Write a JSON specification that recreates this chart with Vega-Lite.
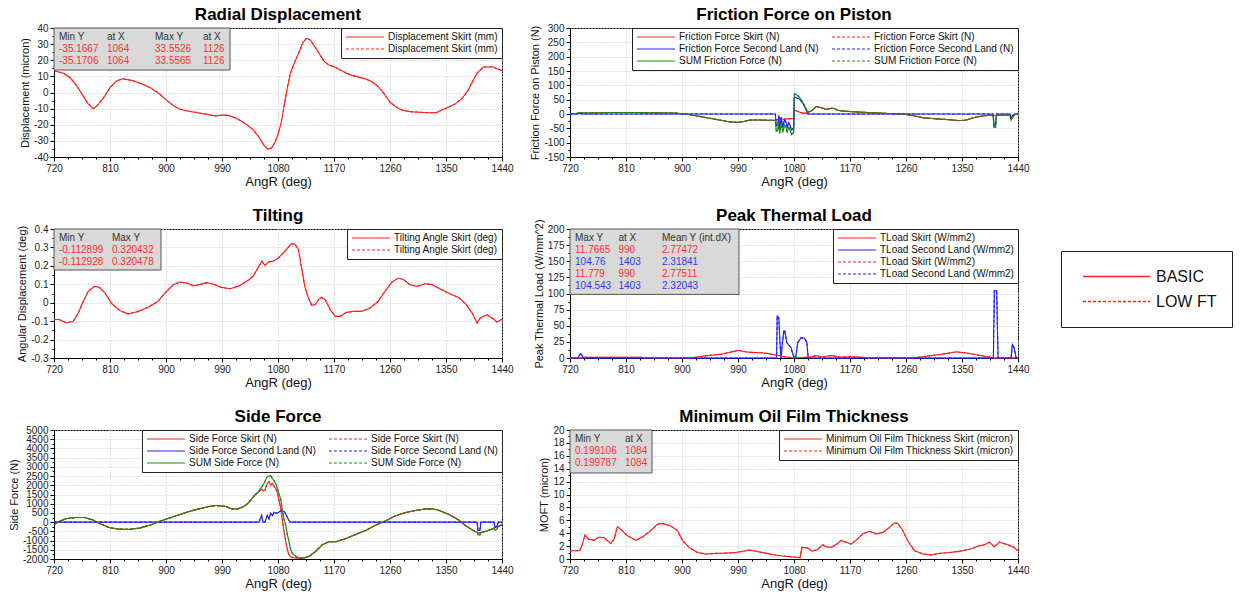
{
"$schema":"https://vega.github.io/schema/vega-lite/v6.json",
"background":"white",
"padding":{"left":7,"top":5,"right":2,"bottom":0},
"config":{
"font":"Liberation Sans",
"view":{"stroke":"#000","strokeWidth":1},
"title":{"font":"Liberation Sans","fontSize":17,"fontWeight":"bold","color":"#000","anchor":"middle"},
"axis":{"labelFont":"Liberation Sans","labelFontSize":10,"labelColor":"#222","titleFont":"Liberation Sans","titleFontWeight":"normal","titleColor":"#111","domainColor":"#000","tickColor":"#000","tickSize":4,"labelPadding":2,"gridColor":"#c4c4c4","gridDash":[1,2],"labelOverlap":false,"labelFlush":false,"minExtent":0},
"axisX":{"titleFontSize":13,"titlePadding":2},
"axisY":{"titleFontSize":11,"titlePadding":3},
"legend":{"labelFont":"Liberation Sans","labelFontSize":10,"labelColor":"#111","strokeColor":"#222","fillColor":"#ffffff","padding":4,"symbolType":"stroke","symbolSize":1444,"symbolStrokeWidth":1.2,"clipHeight":10,"rowPadding":2,"labelOffset":3,"columnPadding":12,"offset":0,"orient":"top-right","labelLimit":400}
},
"datasets":{
"p1":[{"x":720,"a":13.5},{"x":735,"a":12},{"x":745,"a":9.5},{"x":755,"a":5},{"x":765,"a":-1},{"x":775,"a":-7},{"x":783,"a":-10},{"x":790,"a":-8},{"x":800,"a":-3},{"x":810,"a":3},{"x":820,"a":7},{"x":830,"a":8.5},{"x":845,"a":7.5},{"x":860,"a":5.5},{"x":875,"a":3},{"x":890,"a":-1},{"x":900,"a":-4.5},{"x":910,"a":-7.5},{"x":920,"a":-10},{"x":935,"a":-11.5},{"x":950,"a":-12.5},{"x":965,"a":-13.5},{"x":980,"a":-14.5},{"x":990,"a":-14},{"x":1000,"a":-14.2},{"x":1010,"a":-15.5},{"x":1020,"a":-17.5},{"x":1030,"a":-20},{"x":1040,"a":-23},{"x":1050,"a":-28},{"x":1058,"a":-33},{"x":1064,"a":-35.2},{"x":1070,"a":-34.3},{"x":1075,"a":-31},{"x":1080,"a":-26},{"x":1085,"a":-19},{"x":1090,"a":-8},{"x":1095,"a":3},{"x":1100,"a":12},{"x":1108,"a":20},{"x":1115,"a":26},{"x":1120,"a":31},{"x":1126,"a":33.6},{"x":1132,"a":32.5},{"x":1140,"a":28},{"x":1148,"a":23},{"x":1155,"a":19},{"x":1162,"a":17},{"x":1170,"a":16},{"x":1180,"a":14},{"x":1190,"a":12},{"x":1200,"a":10.5},{"x":1210,"a":9.5},{"x":1220,"a":8.5},{"x":1230,"a":7},{"x":1240,"a":4},{"x":1250,"a":-0.5},{"x":1260,"a":-6},{"x":1270,"a":-9},{"x":1280,"a":-11},{"x":1295,"a":-12},{"x":1310,"a":-12.3},{"x":1325,"a":-12.6},{"x":1335,"a":-12.4},{"x":1345,"a":-10.5},{"x":1355,"a":-9},{"x":1365,"a":-7},{"x":1375,"a":-4},{"x":1385,"a":1},{"x":1393,"a":7},{"x":1400,"a":12},{"x":1410,"a":15.8},{"x":1420,"a":15.8},{"x":1425,"a":16},{"x":1430,"a":15},{"x":1440,"a":13.5}],
"p2":[{"x":720,"a":2,"b":0,"c":2},{"x":730,"a":2,"b":0,"c":2},{"x":735,"a":3,"b":2,"c":5},{"x":740,"a":3,"b":0,"c":3},{"x":760,"a":4,"b":0,"c":4},{"x":780,"a":5,"b":0,"c":5},{"x":800,"a":5,"b":0,"c":5},{"x":830,"a":5,"b":0,"c":5},{"x":860,"a":4,"b":0,"c":4},{"x":890,"a":3,"b":0,"c":3},{"x":905,"a":0,"b":0,"c":0},{"x":920,"a":-5,"b":0,"c":-5},{"x":940,"a":-13,"b":0,"c":-13},{"x":960,"a":-21,"b":0,"c":-21},{"x":975,"a":-27,"b":0,"c":-27},{"x":990,"a":-29,"b":0,"c":-29},{"x":1000,"a":-26,"b":0,"c":-26},{"x":1010,"a":-21,"b":0,"c":-21},{"x":1025,"a":-21,"b":0,"c":-21},{"x":1040,"a":-22,"b":0,"c":-22},{"x":1050,"a":-22,"b":0,"c":-22},{"x":1051.5,"a":-20,"b":-40,"c":-60},{"x":1054,"a":-19,"b":-38,"c":-57},{"x":1055.6,"a":-19,"b":-5,"c":-24},{"x":1057,"a":-18,"b":-50,"c":-68},{"x":1059.3,"a":-18,"b":-12,"c":-30},{"x":1062,"a":-18,"b":-46,"c":-64},{"x":1064.7,"a":-18,"b":-20,"c":-38},{"x":1067.4,"a":-17,"b":-30,"c":-47},{"x":1069,"a":-17,"b":-45,"c":-62},{"x":1071.7,"a":-17,"b":-30,"c":-47},{"x":1074,"a":-16,"b":-42,"c":-58},{"x":1076,"a":-16,"b":-56,"c":-72},{"x":1079.5,"a":-16,"b":-48,"c":-64},{"x":1080.5,"a":13,"b":57,"c":70},{"x":1082,"a":12,"b":58,"c":70},{"x":1086,"a":9,"b":55,"c":64},{"x":1089,"a":6,"b":52,"c":58},{"x":1094,"a":3,"b":38,"c":41},{"x":1099.6,"a":3,"b":15,"c":18},{"x":1102.3,"a":6,"b":0,"c":6},{"x":1107.7,"a":10,"b":0,"c":10},{"x":1115.7,"a":26,"b":0,"c":26},{"x":1123.8,"a":22,"b":0,"c":22},{"x":1131.8,"a":16,"b":0,"c":16},{"x":1139.9,"a":20,"b":0,"c":20},{"x":1145,"a":19,"b":0,"c":19},{"x":1150,"a":13,"b":0,"c":13},{"x":1160,"a":10,"b":0,"c":10},{"x":1175,"a":8,"b":0,"c":8},{"x":1190,"a":6,"b":0,"c":6},{"x":1210,"a":4,"b":0,"c":4},{"x":1230,"a":2,"b":0,"c":2},{"x":1255,"a":0,"b":0,"c":0},{"x":1270,"a":-5,"b":0,"c":-5},{"x":1290,"a":-14,"b":0,"c":-14},{"x":1310,"a":-17,"b":0,"c":-17},{"x":1330,"a":-20,"b":0,"c":-20},{"x":1345,"a":-23,"b":0,"c":-23},{"x":1355,"a":-22,"b":0,"c":-22},{"x":1370,"a":-12,"b":0,"c":-12},{"x":1385,"a":-6,"b":0,"c":-6},{"x":1400,"a":-4,"b":0,"c":-4},{"x":1401.5,"a":-6,"b":-40,"c":-46},{"x":1404,"a":-6,"b":-40,"c":-46},{"x":1405.5,"a":-5,"b":0,"c":-5},{"x":1420,"a":-3,"b":0,"c":-3},{"x":1427,"a":-3,"b":0,"c":-3},{"x":1429,"a":-10,"b":-12,"c":-22},{"x":1432,"a":-5,"b":-5,"c":-10},{"x":1435,"a":-2,"b":0,"c":-2},{"x":1440,"a":0,"b":0,"c":0}],
"p3":[{"x":720,"a":-0.09},{"x":729,"a":-0.092},{"x":740,"a":-0.11},{"x":751,"a":-0.1},{"x":759,"a":-0.056},{"x":767,"a":0.007},{"x":775,"a":0.062},{"x":785,"a":0.089},{"x":793,"a":0.083},{"x":802,"a":0.053},{"x":812,"a":-0.002},{"x":826,"a":-0.043},{"x":839,"a":-0.061},{"x":855,"a":-0.047},{"x":871,"a":-0.025},{"x":887,"a":0.007},{"x":901,"a":0.062},{"x":912,"a":0.098},{"x":922,"a":0.112},{"x":933,"a":0.107},{"x":944,"a":0.092},{"x":954,"a":0.098},{"x":965,"a":0.109},{"x":976,"a":0.101},{"x":989,"a":0.083},{"x":1003,"a":0.076},{"x":1016,"a":0.089},{"x":1030,"a":0.116},{"x":1040,"a":0.143},{"x":1046,"a":0.179},{"x":1054,"a":0.225},{"x":1059,"a":0.203},{"x":1065,"a":0.221},{"x":1072,"a":0.225},{"x":1081,"a":0.243},{"x":1091,"a":0.279},{"x":1101,"a":0.319},{"x":1107,"a":0.319},{"x":1113,"a":0.288},{"x":1118,"a":0.189},{"x":1123,"a":0.089},{"x":1129,"a":0.025},{"x":1134,"a":-0.014},{"x":1140,"a":-0.01},{"x":1145,"a":0.016},{"x":1150,"a":0.029},{"x":1156,"a":0.016},{"x":1164,"a":-0.038},{"x":1172,"a":-0.074},{"x":1180,"a":-0.074},{"x":1190,"a":-0.052},{"x":1201,"a":-0.047},{"x":1215,"a":-0.047},{"x":1228,"a":-0.029},{"x":1241,"a":0.007},{"x":1252,"a":0.062},{"x":1263,"a":0.112},{"x":1274,"a":0.134},{"x":1282,"a":0.125},{"x":1292,"a":0.098},{"x":1303,"a":0.089},{"x":1317,"a":0.103},{"x":1327,"a":0.098},{"x":1343,"a":0.071},{"x":1357,"a":0.047},{"x":1370,"a":0.029},{"x":1381,"a":-0.004},{"x":1392,"a":-0.056},{"x":1400,"a":-0.11},{"x":1405,"a":-0.083},{"x":1416,"a":-0.065},{"x":1424,"a":-0.083},{"x":1432,"a":-0.105},{"x":1440,"a":-0.09}],
"p4":[{"x":720,"a":0,"b":0},{"x":733,"a":0,"b":0},{"x":735,"a":0,"b":4},{"x":737,"a":0,"b":7},{"x":739,"a":0,"b":5},{"x":741,"a":0,"b":0},{"x":742,"a":1,"b":0},{"x":800,"a":1,"b":0},{"x":835,"a":1,"b":0},{"x":838,"a":0,"b":0},{"x":915,"a":0,"b":0},{"x":920,"a":1,"b":0},{"x":943,"a":4,"b":0},{"x":964,"a":6,"b":0},{"x":980,"a":9.5,"b":0},{"x":991,"a":11.8,"b":0},{"x":1000,"a":10,"b":0},{"x":1007,"a":9,"b":0},{"x":1029,"a":8,"b":0},{"x":1050,"a":5,"b":0},{"x":1052,"a":4.5,"b":0},{"x":1053,"a":4.3,"b":65},{"x":1055.6,"a":3.8,"b":62},{"x":1057.7,"a":3.3,"b":18},{"x":1059.3,"a":3,"b":0},{"x":1061,"a":2.5,"b":20},{"x":1063.6,"a":2,"b":42},{"x":1065.2,"a":1.8,"b":42},{"x":1068.4,"a":1.4,"b":24},{"x":1072.7,"a":0.9,"b":18.6},{"x":1075.4,"a":0.6,"b":16},{"x":1077,"a":0.5,"b":10},{"x":1079.2,"a":0.6,"b":3},{"x":1080.8,"a":0.6,"b":0},{"x":1083,"a":0.6,"b":3},{"x":1086.2,"a":0.7,"b":24},{"x":1091.5,"a":0.8,"b":31.5},{"x":1096.9,"a":0.9,"b":30.5},{"x":1100.7,"a":1,"b":24},{"x":1102.8,"a":1,"b":0},{"x":1105,"a":1,"b":0},{"x":1115,"a":3.6,"b":0},{"x":1126,"a":1.5,"b":0},{"x":1139,"a":4,"b":0},{"x":1153,"a":1.5,"b":0},{"x":1169,"a":2,"b":0},{"x":1190,"a":1,"b":0},{"x":1195,"a":0,"b":0},{"x":1271,"a":0,"b":0},{"x":1292,"a":2.6,"b":0},{"x":1319,"a":6,"b":0},{"x":1341,"a":9.5,"b":0},{"x":1357,"a":7.8,"b":0},{"x":1373,"a":5,"b":0},{"x":1389,"a":2,"b":0},{"x":1395,"a":1.5,"b":0},{"x":1400.4,"a":0.3,"b":0},{"x":1402,"a":0,"b":104},{"x":1405.8,"a":0,"b":104},{"x":1406.8,"a":0,"b":52},{"x":1408,"a":0,"b":0},{"x":1428.9,"a":0,"b":0},{"x":1431,"a":0,"b":21},{"x":1433.7,"a":0,"b":16},{"x":1437,"a":0,"b":0},{"x":1440,"a":0,"b":0}],
"p5":[{"x":720,"a":-144,"b":0,"c":-144},{"x":728,"a":36,"b":0,"c":36},{"x":739,"a":183,"b":0,"c":183},{"x":755,"a":256,"b":0,"c":256},{"x":768,"a":256,"b":0,"c":256},{"x":782,"a":130,"b":0,"c":130},{"x":792,"a":-53,"b":0,"c":-53},{"x":808,"a":-290,"b":0,"c":-290},{"x":824,"a":-378,"b":0,"c":-378},{"x":840,"a":-396,"b":0,"c":-396},{"x":857,"a":-325,"b":0,"c":-325},{"x":873,"a":-180,"b":0,"c":-180},{"x":889,"a":36,"b":0,"c":36},{"x":905,"a":216,"b":0,"c":216},{"x":921,"a":397,"b":0,"c":397},{"x":937,"a":577,"b":0,"c":577},{"x":953,"a":721,"b":0,"c":721},{"x":969,"a":847,"b":0,"c":847},{"x":980,"a":905,"b":0,"c":905},{"x":996,"a":847,"b":0,"c":847},{"x":1006,"a":721,"b":0,"c":721},{"x":1014,"a":703,"b":0,"c":703},{"x":1025,"a":847,"b":0,"c":847},{"x":1033,"a":1060,"b":0,"c":1060},{"x":1041,"a":1400,"b":0,"c":1400},{"x":1049.4,"a":1659,"b":0,"c":1700},{"x":1053.7,"a":1800,"b":361,"c":1900},{"x":1055.9,"a":1700,"b":0,"c":2000},{"x":1059,"a":1750,"b":0,"c":2200},{"x":1062.8,"a":2100,"b":361,"c":2470},{"x":1065.5,"a":2200,"b":180,"c":2500},{"x":1068.2,"a":2019,"b":487,"c":2524},{"x":1070.9,"a":2110,"b":361,"c":2380},{"x":1073.5,"a":1950,"b":541,"c":2250},{"x":1076.2,"a":1839,"b":500,"c":2110},{"x":1079,"a":1550,"b":487,"c":1850},{"x":1080.5,"a":1388,"b":520,"c":1650},{"x":1084.3,"a":757,"b":613,"c":1250},{"x":1088,"a":-144,"b":600,"c":450},{"x":1089.6,"a":-500,"b":577,"c":150},{"x":1092.3,"a":-1046,"b":450,"c":-144},{"x":1095,"a":-1450,"b":252,"c":-650},{"x":1096.6,"a":-1677,"b":150,"c":-900},{"x":1097.7,"a":-1750,"b":80,"c":-1046},{"x":1100.3,"a":-1880,"b":0,"c":-1500},{"x":1103,"a":-1920,"b":0,"c":-1677},{"x":1108.4,"a":-1947,"b":0,"c":-1857},{"x":1113.7,"a":-1950,"b":0,"c":-1947},{"x":1121.8,"a":-1947,"b":0,"c":-1947},{"x":1129.8,"a":-1857,"b":0,"c":-1857},{"x":1140.5,"a":-1587,"b":0,"c":-1587},{"x":1151.2,"a":-1226,"b":0,"c":-1226},{"x":1162,"a":-1060,"b":0,"c":-1060},{"x":1173,"a":-1062,"b":0,"c":-1062},{"x":1188,"a":-900,"b":0,"c":-900},{"x":1204,"a":-680,"b":0,"c":-680},{"x":1220,"a":-466,"b":0,"c":-466},{"x":1236,"a":-180,"b":0,"c":-180},{"x":1253,"a":72,"b":0,"c":72},{"x":1269,"a":343,"b":0,"c":343},{"x":1285,"a":523,"b":0,"c":523},{"x":1301,"a":631,"b":0,"c":631},{"x":1317,"a":721,"b":0,"c":721},{"x":1328,"a":721,"b":0,"c":721},{"x":1338,"a":650,"b":0,"c":650},{"x":1354,"a":433,"b":0,"c":433},{"x":1370,"a":126,"b":0,"c":126},{"x":1381,"a":-180,"b":0,"c":-180},{"x":1392,"a":-415,"b":0,"c":-415},{"x":1400,"a":-560,"b":0,"c":-560},{"x":1401.5,"a":-580,"b":-450,"c":-700},{"x":1404.5,"a":-580,"b":-450,"c":-700},{"x":1406,"a":-560,"b":0,"c":-560},{"x":1413,"a":-505,"b":0,"c":-505},{"x":1421,"a":-415,"b":0,"c":-415},{"x":1427,"a":-330,"b":0,"c":-330},{"x":1429,"a":-300,"b":-280,"c":-450},{"x":1432,"a":-260,"b":-200,"c":-380},{"x":1434,"a":-235,"b":0,"c":-235},{"x":1440,"a":-144,"b":0,"c":-144}],
"p6":[{"x":720,"a":1.28},{"x":729,"a":1.28},{"x":735.6,"a":1.28},{"x":740,"a":2.3},{"x":744,"a":3.7},{"x":749.5,"a":3.1},{"x":758.6,"a":2.9},{"x":766.7,"a":3.4},{"x":774.7,"a":3.3},{"x":785.5,"a":2.4},{"x":790.8,"a":3.1},{"x":796.2,"a":5.0},{"x":801.5,"a":4.6},{"x":812.3,"a":3.6},{"x":825.7,"a":2.9},{"x":836.4,"a":3.4},{"x":849.8,"a":4.4},{"x":860.6,"a":5.4},{"x":868.6,"a":5.5},{"x":882,"a":5.1},{"x":892.8,"a":4.4},{"x":900.8,"a":2.9},{"x":911.5,"a":1.8},{"x":924.9,"a":1.0},{"x":938.4,"a":0.77},{"x":954.5,"a":0.87},{"x":970.5,"a":0.92},{"x":986.6,"a":1.0},{"x":1008,"a":1.4},{"x":1029.6,"a":1.0},{"x":1045.7,"a":0.67},{"x":1067,"a":0.41},{"x":1083.2,"a":0.26},{"x":1089.6,"a":0.2},{"x":1092.9,"a":1.8},{"x":1102,"a":1.7},{"x":1110,"a":1.2},{"x":1118,"a":1.5},{"x":1126,"a":2.2},{"x":1131.5,"a":1.9},{"x":1139.5,"a":1.8},{"x":1147.6,"a":2.2},{"x":1155.6,"a":2.9},{"x":1163.7,"a":2.6},{"x":1171.7,"a":2.3},{"x":1179.8,"a":2.9},{"x":1190.5,"a":3.9},{"x":1201.2,"a":4.3},{"x":1212,"a":3.9},{"x":1222.7,"a":4.1},{"x":1233.4,"a":4.9},{"x":1241.5,"a":5.6},{"x":1246.8,"a":5.5},{"x":1254.9,"a":4.4},{"x":1262.9,"a":2.8},{"x":1273.6,"a":1.3},{"x":1287,"a":0.77},{"x":1300.4,"a":0.62},{"x":1313.8,"a":0.87},{"x":1329.9,"a":1.0},{"x":1346,"a":1.2},{"x":1362,"a":1.5},{"x":1378,"a":2.05},{"x":1386,"a":2.2},{"x":1394,"a":2.6},{"x":1402,"a":1.9},{"x":1410,"a":2.6},{"x":1421,"a":2.3},{"x":1432,"a":1.9},{"x":1440,"a":1.28}]
},
"concat":[
{"title":{"text":"Radial Displacement","offset":-1},"width":448,"height":129,
"resolve":{"scale":{"x":"independent","y":"independent","color":"independent"}},
"layer":[
{"data":{"name":"p1"},"transform":[{"fold":["a"],"as":["k","v"]}],
"encoding":{
"x":{"field":"x","type":"quantitative","scale":{"domain":[720,1440],"nice":false,"zero":false},"axis":{"orient":"bottom","values":[720,810,900,990,1080,1170,1260,1350,1440],"title":"AngR (deg)","format":"d"}},
"y":{"field":"v","type":"quantitative","scale":{"domain":[-40,40],"nice":false,"zero":false},"axis":{"orient":"left","values":[-40,-30,-20,-10,0,10,20,30,40],"title":"Displacement (micron)","format":"d","labelExpr":"replace(datum.label,'\u2212','-')"}},
"color":{"field":"k","type":"nominal","scale":{"domain":["a","A"],"range":["#ff2020","#ff2020"]},"legend":{"title":null,"labelExpr":"'Displacement Skirt (mm)'","encode":{"symbols":{"update":{"strokeDash":{"signal":"datum.value==upper(datum.value)?[3,2]:[1,0]"}}}}}}},
"layer":[
{"mark":{"type":"line","strokeWidth":1.1},"encoding":{"strokeDash":{"datum":"BASIC","scale":{"domain":["BASIC","LOW FT"],"range":[[1,0],[3,2]]},"legend":null}}},
{"mark":{"type":"line","strokeWidth":1.1},"encoding":{"strokeDash":{"datum":"LOW FT","legend":null}}}
]},
{"data":{"values":[]},"mark":{"type":"point","opacity":0},"encoding":{"x":{"field":"x","type":"quantitative","scale":{"domain":[720,1440],"nice":false,"zero":false},"axis":{"orient":"bottom","values":[742.5,765,787.5,832.5,855,877.5,922.5,945,967.5,1012.5,1035,1057.5,1102.5,1125,1147.5,1192.5,1215,1237.5,1282.5,1305,1327.5,1372.5,1395,1417.5],"labels":false,"grid":false,"domain":false,"tickSize":2,"title":null}},"y":{"field":"y","type":"quantitative","scale":{"domain":[-40,40],"nice":false,"zero":false},"axis":{"orient":"left","values":[-35,-25,-15,-5,5,15,25,35],"labels":false,"grid":false,"domain":false,"tickSize":2,"title":null}}}},
{"data":{"values":[{"c":0,"r":0,"t":"Min Y","s":"head"},{"c":1,"r":0,"t":"at X","s":"head"},{"c":2,"r":0,"t":"Max Y","s":"head"},{"c":3,"r":0,"t":"at X","s":"head"},{"c":0,"r":1,"t":"-35.1667","s":"skirt"},{"c":1,"r":1,"t":"1064","s":"skirt"},{"c":2,"r":1,"t":"33.5526","s":"skirt"},{"c":3,"r":1,"t":"1126","s":"skirt"},{"c":0,"r":2,"t":"-35.1706","s":"skirt"},{"c":1,"r":2,"t":"1064","s":"skirt"},{"c":2,"r":2,"t":"33.5565","s":"skirt"},{"c":3,"r":2,"t":"1126","s":"skirt"}]},
"layer":[
{"data":{"values":[{}]},"mark":{"type":"rect","fill":"#d9d9d9","stroke":"#555","strokeWidth":1},
"encoding":{"x":{"datum":-0.104,"type":"quantitative","scale":{"domain":[-0.104,9.229],"nice":false},"axis":null},"x2":{"datum":3.563},"y":{"datum":-0.75,"type":"quantitative","scale":{"domain":[-0.75,10],"reverse":true,"nice":false},"axis":null},"y2":{"datum":2.75}}},
{"mark":{"type":"text","align":"left","baseline":"middle","font":"Liberation Sans","fontSize":10},
"encoding":{"x":{"field":"c","type":"quantitative","scale":{"domain":[-0.104,9.229],"nice":false},"axis":null},"y":{"field":"r","type":"quantitative","scale":{"domain":[-0.75,10],"reverse":true,"nice":false},"axis":null},"text":{"field":"t"},"color":{"field":"s","type":"nominal","scale":{"domain":["head","skirt","land"],"range":["#333333","#ff3030","#3535ff"]},"legend":null}}}
]}
]},
{"title":{"text":"Friction Force on Piston","offset":-1},"width":448,"height":129,
"resolve":{"scale":{"x":"independent","y":"independent","color":"independent"}},
"layer":[
{"data":{"name":"p2"},"transform":[{"fold":["a","b","c"],"as":["k","v"]}],
"encoding":{
"x":{"field":"x","type":"quantitative","scale":{"domain":[720,1440],"nice":false,"zero":false},"axis":{"orient":"bottom","values":[720,810,900,990,1080,1170,1260,1350,1440],"title":"AngR (deg)","format":"d"}},
"y":{"field":"v","type":"quantitative","scale":{"domain":[-150,300],"nice":false,"zero":false},"axis":{"orient":"left","values":[-150,-100,-50,0,50,100,150,200,250,300],"title":"Friction Force on Piston (N)","format":"d","labelExpr":"replace(datum.label,'\u2212','-')"}},
"color":{"field":"k","type":"nominal","scale":{"domain":["a","b","c","A","B","C"],"range":["#ff2020","#2020ff","#168c16","#ff2020","#2020ff","#168c16"]},"legend":{"title":null,"columns":2,"labelExpr":"lower(datum.value)=='a'?'Friction Force Skirt (N)':lower(datum.value)=='b'?'Friction Force Second Land (N)':'SUM Friction Force (N)'","encode":{"symbols":{"update":{"strokeDash":{"signal":"datum.value==upper(datum.value)?[3,2]:[1,0]"}}}}}}},
"layer":[
{"mark":{"type":"line","strokeWidth":1.1},"encoding":{"strokeDash":{"datum":"BASIC","scale":{"domain":["BASIC","LOW FT"],"range":[[1,0],[3,2]]},"legend":null}}},
{"mark":{"type":"line","strokeWidth":1.1},"encoding":{"strokeDash":{"datum":"LOW FT","legend":null}}}
]},
{"data":{"values":[]},"mark":{"type":"point","opacity":0},"encoding":{"x":{"field":"x","type":"quantitative","scale":{"domain":[720,1440],"nice":false,"zero":false},"axis":{"orient":"bottom","values":[742.5,765,787.5,832.5,855,877.5,922.5,945,967.5,1012.5,1035,1057.5,1102.5,1125,1147.5,1192.5,1215,1237.5,1282.5,1305,1327.5,1372.5,1395,1417.5],"labels":false,"grid":false,"domain":false,"tickSize":2,"title":null}},"y":{"field":"y","type":"quantitative","scale":{"domain":[-150,300],"nice":false,"zero":false},"axis":{"orient":"left","values":[-125,-75,-25,25,75,125,175,225,275],"labels":false,"grid":false,"domain":false,"tickSize":2,"title":null}}}}
]},
{"title":{"text":"Tilting","offset":-1},"width":448,"height":129,
"resolve":{"scale":{"x":"independent","y":"independent","color":"independent"}},
"layer":[
{"data":{"name":"p3"},"transform":[{"fold":["a"],"as":["k","v"]}],
"encoding":{
"x":{"field":"x","type":"quantitative","scale":{"domain":[720,1440],"nice":false,"zero":false},"axis":{"orient":"bottom","values":[720,810,900,990,1080,1170,1260,1350,1440],"title":"AngR (deg)","format":"d"}},
"y":{"field":"v","type":"quantitative","scale":{"domain":[-0.3,0.4],"nice":false,"zero":false},"axis":{"orient":"left","values":[-0.3,-0.2,-0.1,0,0.1,0.2,0.3,0.4],"title":"Angular Displacement (deg)","format":"~f","labelExpr":"replace(datum.label,'\u2212','-')"}},
"color":{"field":"k","type":"nominal","scale":{"domain":["a","A"],"range":["#ff2020","#ff2020"]},"legend":{"title":null,"labelExpr":"'Tilting Angle Skirt (deg)'","encode":{"symbols":{"update":{"strokeDash":{"signal":"datum.value==upper(datum.value)?[3,2]:[1,0]"}}}}}}},
"layer":[
{"mark":{"type":"line","strokeWidth":1.1},"encoding":{"strokeDash":{"datum":"BASIC","scale":{"domain":["BASIC","LOW FT"],"range":[[1,0],[3,2]]},"legend":null}}},
{"mark":{"type":"line","strokeWidth":1.1},"encoding":{"strokeDash":{"datum":"LOW FT","legend":null}}}
]},
{"data":{"values":[]},"mark":{"type":"point","opacity":0},"encoding":{"x":{"field":"x","type":"quantitative","scale":{"domain":[720,1440],"nice":false,"zero":false},"axis":{"orient":"bottom","values":[742.5,765,787.5,832.5,855,877.5,922.5,945,967.5,1012.5,1035,1057.5,1102.5,1125,1147.5,1192.5,1215,1237.5,1282.5,1305,1327.5,1372.5,1395,1417.5],"labels":false,"grid":false,"domain":false,"tickSize":2,"title":null}},"y":{"field":"y","type":"quantitative","scale":{"domain":[-0.3,0.4],"nice":false,"zero":false},"axis":{"orient":"left","values":[-0.25,-0.15,-0.05,0.05,0.15,0.25,0.35],"labels":false,"grid":false,"domain":false,"tickSize":2,"title":null}}}},
{"data":{"values":[{"c":0,"r":0,"t":"Min Y","s":"head"},{"c":1,"r":0,"t":"Max Y","s":"head"},{"c":0,"r":1,"t":"-0.112899","s":"skirt"},{"c":1,"r":1,"t":"0.320432","s":"skirt"},{"c":0,"r":2,"t":"-0.112928","s":"skirt"},{"c":1,"r":2,"t":"0.320478","s":"skirt"}]},
"layer":[
{"data":{"values":[{}]},"mark":{"type":"rect","fill":"#d9d9d9","stroke":"#555","strokeWidth":1},
"encoding":{"x":{"datum":-0.094,"type":"quantitative","scale":{"domain":[-0.094,8.359],"nice":false},"axis":null},"x2":{"datum":1.925},"y":{"datum":-0.75,"type":"quantitative","scale":{"domain":[-0.75,10],"reverse":true,"nice":false},"axis":null},"y2":{"datum":2.67}}},
{"mark":{"type":"text","align":"left","baseline":"middle","font":"Liberation Sans","fontSize":10},
"encoding":{"x":{"field":"c","type":"quantitative","scale":{"domain":[-0.094,8.359],"nice":false},"axis":null},"y":{"field":"r","type":"quantitative","scale":{"domain":[-0.75,10],"reverse":true,"nice":false},"axis":null},"text":{"field":"t"},"color":{"field":"s","type":"nominal","scale":{"domain":["head","skirt","land"],"range":["#333333","#ff3030","#3535ff"]},"legend":null}}}
]}
]},
{"title":{"text":"Peak Thermal Load","offset":-6},"width":448,"height":129,
"resolve":{"scale":{"x":"independent","y":"independent","color":"independent"}},
"layer":[
{"data":{"name":"p4"},"transform":[{"fold":["a","b"],"as":["k","v"]}],
"encoding":{
"x":{"field":"x","type":"quantitative","scale":{"domain":[720,1440],"nice":false,"zero":false},"axis":{"orient":"bottom","values":[720,810,900,990,1080,1170,1260,1350,1440],"title":"AngR (deg)","format":"d"}},
"y":{"field":"v","type":"quantitative","scale":{"domain":[0,200],"nice":false,"zero":false},"axis":{"orient":"left","values":[0,25,50,75,100,125,150,175,200],"title":"Peak Thermal Load (W/mm^2)","format":"d"}},
"color":{"field":"k","type":"nominal","scale":{"domain":["a","b","A","B"],"range":["#ff2020","#2020ff","#ff2020","#2020ff"]},"legend":{"title":null,"labelExpr":"lower(datum.value)=='a'?'TLoad Skirt (W/mm2)':'TLoad Second Land (W/mm2)'","encode":{"symbols":{"update":{"strokeDash":{"signal":"datum.value==upper(datum.value)?[3,2]:[1,0]"}}}}}}},
"layer":[
{"mark":{"type":"line","strokeWidth":1.1},"encoding":{"strokeDash":{"datum":"BASIC","scale":{"domain":["BASIC","LOW FT"],"range":[[1,0],[3,2]]},"legend":{"title":null,"orient":"none","legendX":491,"legendY":22,"direction":"vertical","labelFontSize":16,"labelColor":"#111","symbolSize":4489,"symbolStrokeWidth":1.5,"clipHeight":21,"rowPadding":4,"padding":15,"labelOffset":5,"symbolOffset":6,"strokeColor":"#222","fillColor":"#ffffff","encode":{"symbols":{"update":{"stroke":{"value":"#ff2020"}}}}}}}},
{"mark":{"type":"line","strokeWidth":1.1},"encoding":{"strokeDash":{"datum":"LOW FT"}}}
]},
{"data":{"values":[]},"mark":{"type":"point","opacity":0},"encoding":{"x":{"field":"x","type":"quantitative","scale":{"domain":[720,1440],"nice":false,"zero":false},"axis":{"orient":"bottom","values":[742.5,765,787.5,832.5,855,877.5,922.5,945,967.5,1012.5,1035,1057.5,1102.5,1125,1147.5,1192.5,1215,1237.5,1282.5,1305,1327.5,1372.5,1395,1417.5],"labels":false,"grid":false,"domain":false,"tickSize":2,"title":null}},"y":{"field":"y","type":"quantitative","scale":{"domain":[0,200],"nice":false,"zero":false},"axis":{"orient":"left","values":[12.5,37.5,62.5,87.5,112.5,137.5,162.5,187.5],"labels":false,"grid":false,"domain":false,"tickSize":2,"title":null}}}},
{"data":{"values":[{"c":0,"r":0,"t":"Max Y","s":"head"},{"c":1,"r":0,"t":"at X","s":"head"},{"c":2,"r":0,"t":"Mean Y (int.dX)","s":"head"},{"c":0,"r":1,"t":"11.7665","s":"skirt"},{"c":1,"r":1,"t":"990","s":"skirt"},{"c":2,"r":1,"t":"2.77472","s":"skirt"},{"c":0,"r":2,"t":"104.76","s":"land"},{"c":1,"r":2,"t":"1403","s":"land"},{"c":2,"r":2,"t":"2.31841","s":"land"},{"c":0,"r":3,"t":"11.779","s":"skirt"},{"c":1,"r":3,"t":"990","s":"skirt"},{"c":2,"r":3,"t":"2.77511","s":"skirt"},{"c":0,"r":4,"t":"104.543","s":"land"},{"c":1,"r":4,"t":"1403","s":"land"},{"c":2,"r":4,"t":"2.32043","s":"land"}]},
"layer":[
{"data":{"values":[{}]},"mark":{"type":"rect","fill":"#d9d9d9","stroke":"#555","strokeWidth":1},
"encoding":{"x":{"datum":-0.115,"type":"quantitative","scale":{"domain":[-0.115,10.184],"nice":false},"axis":null},"x2":{"datum":3.77},"y":{"datum":-0.75,"type":"quantitative","scale":{"domain":[-0.75,10],"reverse":true,"nice":false},"axis":null},"y2":{"datum":4.7}}},
{"mark":{"type":"text","align":"left","baseline":"middle","font":"Liberation Sans","fontSize":10},
"encoding":{"x":{"field":"c","type":"quantitative","scale":{"domain":[-0.115,10.184],"nice":false},"axis":null},"y":{"field":"r","type":"quantitative","scale":{"domain":[-0.75,10],"reverse":true,"nice":false},"axis":null},"text":{"field":"t"},"color":{"field":"s","type":"nominal","scale":{"domain":["head","skirt","land"],"range":["#333333","#ff3030","#3535ff"]},"legend":null}}}
]}
]},
{"title":{"text":"Side Force","offset":-1},"width":448,"height":129,
"resolve":{"scale":{"x":"independent","y":"independent","color":"independent"}},
"layer":[
{"data":{"name":"p5"},"transform":[{"fold":["a","b","c"],"as":["k","v"]}],
"encoding":{
"x":{"field":"x","type":"quantitative","scale":{"domain":[720,1440],"nice":false,"zero":false},"axis":{"orient":"bottom","values":[720,810,900,990,1080,1170,1260,1350,1440],"title":"AngR (deg)","format":"d"}},
"y":{"field":"v","type":"quantitative","scale":{"domain":[-2000,5000],"nice":false,"zero":false},"axis":{"orient":"left","values":[-2000,-1500,-1000,-500,0,500,1000,1500,2000,2500,3000,3500,4000,4500,5000],"title":"Side Force (N)","format":"d","labelExpr":"replace(datum.label,'\u2212','-')"}},
"color":{"field":"k","type":"nominal","scale":{"domain":["a","b","c","A","B","C"],"range":["#ff2020","#2020ff","#168c16","#ff2020","#2020ff","#168c16"]},"legend":{"title":null,"columns":2,"labelExpr":"lower(datum.value)=='a'?'Side Force Skirt (N)':lower(datum.value)=='b'?'Side Force Second Land (N)':'SUM Side Force (N)'","encode":{"symbols":{"update":{"strokeDash":{"signal":"datum.value==upper(datum.value)?[3,2]:[1,0]"}}}}}}},
"layer":[
{"mark":{"type":"line","strokeWidth":1.1},"encoding":{"strokeDash":{"datum":"BASIC","scale":{"domain":["BASIC","LOW FT"],"range":[[1,0],[3,2]]},"legend":null}}},
{"mark":{"type":"line","strokeWidth":1.1},"encoding":{"strokeDash":{"datum":"LOW FT","legend":null}}}
]},
{"data":{"values":[]},"mark":{"type":"point","opacity":0},"encoding":{"x":{"field":"x","type":"quantitative","scale":{"domain":[720,1440],"nice":false,"zero":false},"axis":{"orient":"bottom","values":[742.5,765,787.5,832.5,855,877.5,922.5,945,967.5,1012.5,1035,1057.5,1102.5,1125,1147.5,1192.5,1215,1237.5,1282.5,1305,1327.5,1372.5,1395,1417.5],"labels":false,"grid":false,"domain":false,"tickSize":2,"title":null}},"y":{"field":"y","type":"quantitative","scale":{"domain":[-2000,5000],"nice":false,"zero":false},"axis":{"orient":"left","values":[-1750,-1250,-750,-250,250,750,1250,1750,2250,2750,3250,3750,4250,4750],"labels":false,"grid":false,"domain":false,"tickSize":2,"title":null}}}}
]},
{"title":{"text":"Minimum Oil Film Thickness","offset":-1},"width":448,"height":129,
"resolve":{"scale":{"x":"independent","y":"independent","color":"independent"}},
"layer":[
{"data":{"name":"p6"},"transform":[{"fold":["a"],"as":["k","v"]}],
"encoding":{
"x":{"field":"x","type":"quantitative","scale":{"domain":[720,1440],"nice":false,"zero":false},"axis":{"orient":"bottom","values":[720,810,900,990,1080,1170,1260,1350,1440],"title":"AngR (deg)","format":"d"}},
"y":{"field":"v","type":"quantitative","scale":{"domain":[0,20],"nice":false,"zero":false},"axis":{"orient":"left","values":[0,2,4,6,8,10,12,14,16,18,20],"title":"MOFT (micron)","format":"d"}},
"color":{"field":"k","type":"nominal","scale":{"domain":["a","A"],"range":["#ff2020","#ff2020"]},"legend":{"title":null,"labelExpr":"'Minimum Oil Film Thickness Skirt (micron)'","encode":{"symbols":{"update":{"strokeDash":{"signal":"datum.value==upper(datum.value)?[3,2]:[1,0]"}}}}}}},
"layer":[
{"mark":{"type":"line","strokeWidth":1.1},"encoding":{"strokeDash":{"datum":"BASIC","scale":{"domain":["BASIC","LOW FT"],"range":[[1,0],[3,2]]},"legend":null}}},
{"mark":{"type":"line","strokeWidth":1.1},"encoding":{"strokeDash":{"datum":"LOW FT","legend":null}}}
]},
{"data":{"values":[]},"mark":{"type":"point","opacity":0},"encoding":{"x":{"field":"x","type":"quantitative","scale":{"domain":[720,1440],"nice":false,"zero":false},"axis":{"orient":"bottom","values":[742.5,765,787.5,832.5,855,877.5,922.5,945,967.5,1012.5,1035,1057.5,1102.5,1125,1147.5,1192.5,1215,1237.5,1282.5,1305,1327.5,1372.5,1395,1417.5],"labels":false,"grid":false,"domain":false,"tickSize":2,"title":null}},"y":{"field":"y","type":"quantitative","scale":{"domain":[0,20],"nice":false,"zero":false},"axis":{"orient":"left","values":[1,3,5,7,9,11,13,15,17,19],"labels":false,"grid":false,"domain":false,"tickSize":2,"title":null}}}},
{"data":{"values":[{"c":0,"r":0,"t":"Min Y","s":"head"},{"c":1,"r":0,"t":"at X","s":"head"},{"c":0,"r":1,"t":"0.199106","s":"skirt"},{"c":1,"r":1,"t":"1084","s":"skirt"},{"c":0,"r":2,"t":"0.199787","s":"skirt"},{"c":1,"r":2,"t":"1084","s":"skirt"}]},
"layer":[
{"data":{"values":[{}]},"mark":{"type":"rect","fill":"#d9d9d9","stroke":"#555","strokeWidth":1},
"encoding":{"x":{"datum":-0.1,"type":"quantitative","scale":{"domain":[-0.1,8.86],"nice":false},"axis":null},"x2":{"datum":1.54},"y":{"datum":-0.75,"type":"quantitative","scale":{"domain":[-0.75,10],"reverse":true,"nice":false},"axis":null},"y2":{"datum":2.83}}},
{"mark":{"type":"text","align":"left","baseline":"middle","font":"Liberation Sans","fontSize":10},
"encoding":{"x":{"field":"c","type":"quantitative","scale":{"domain":[-0.1,8.86],"nice":false},"axis":null},"y":{"field":"r","type":"quantitative","scale":{"domain":[-0.75,10],"reverse":true,"nice":false},"axis":null},"text":{"field":"t"},"color":{"field":"s","type":"nominal","scale":{"domain":["head","skirt","land"],"range":["#333333","#ff3030","#3535ff"]},"legend":null}}}
]}
]}
],
"columns":2,
"spacing":{"row":72,"column":68},
"bounds":"flush",
"resolve":{"scale":{"color":"independent","strokeDash":"independent"}}
}
